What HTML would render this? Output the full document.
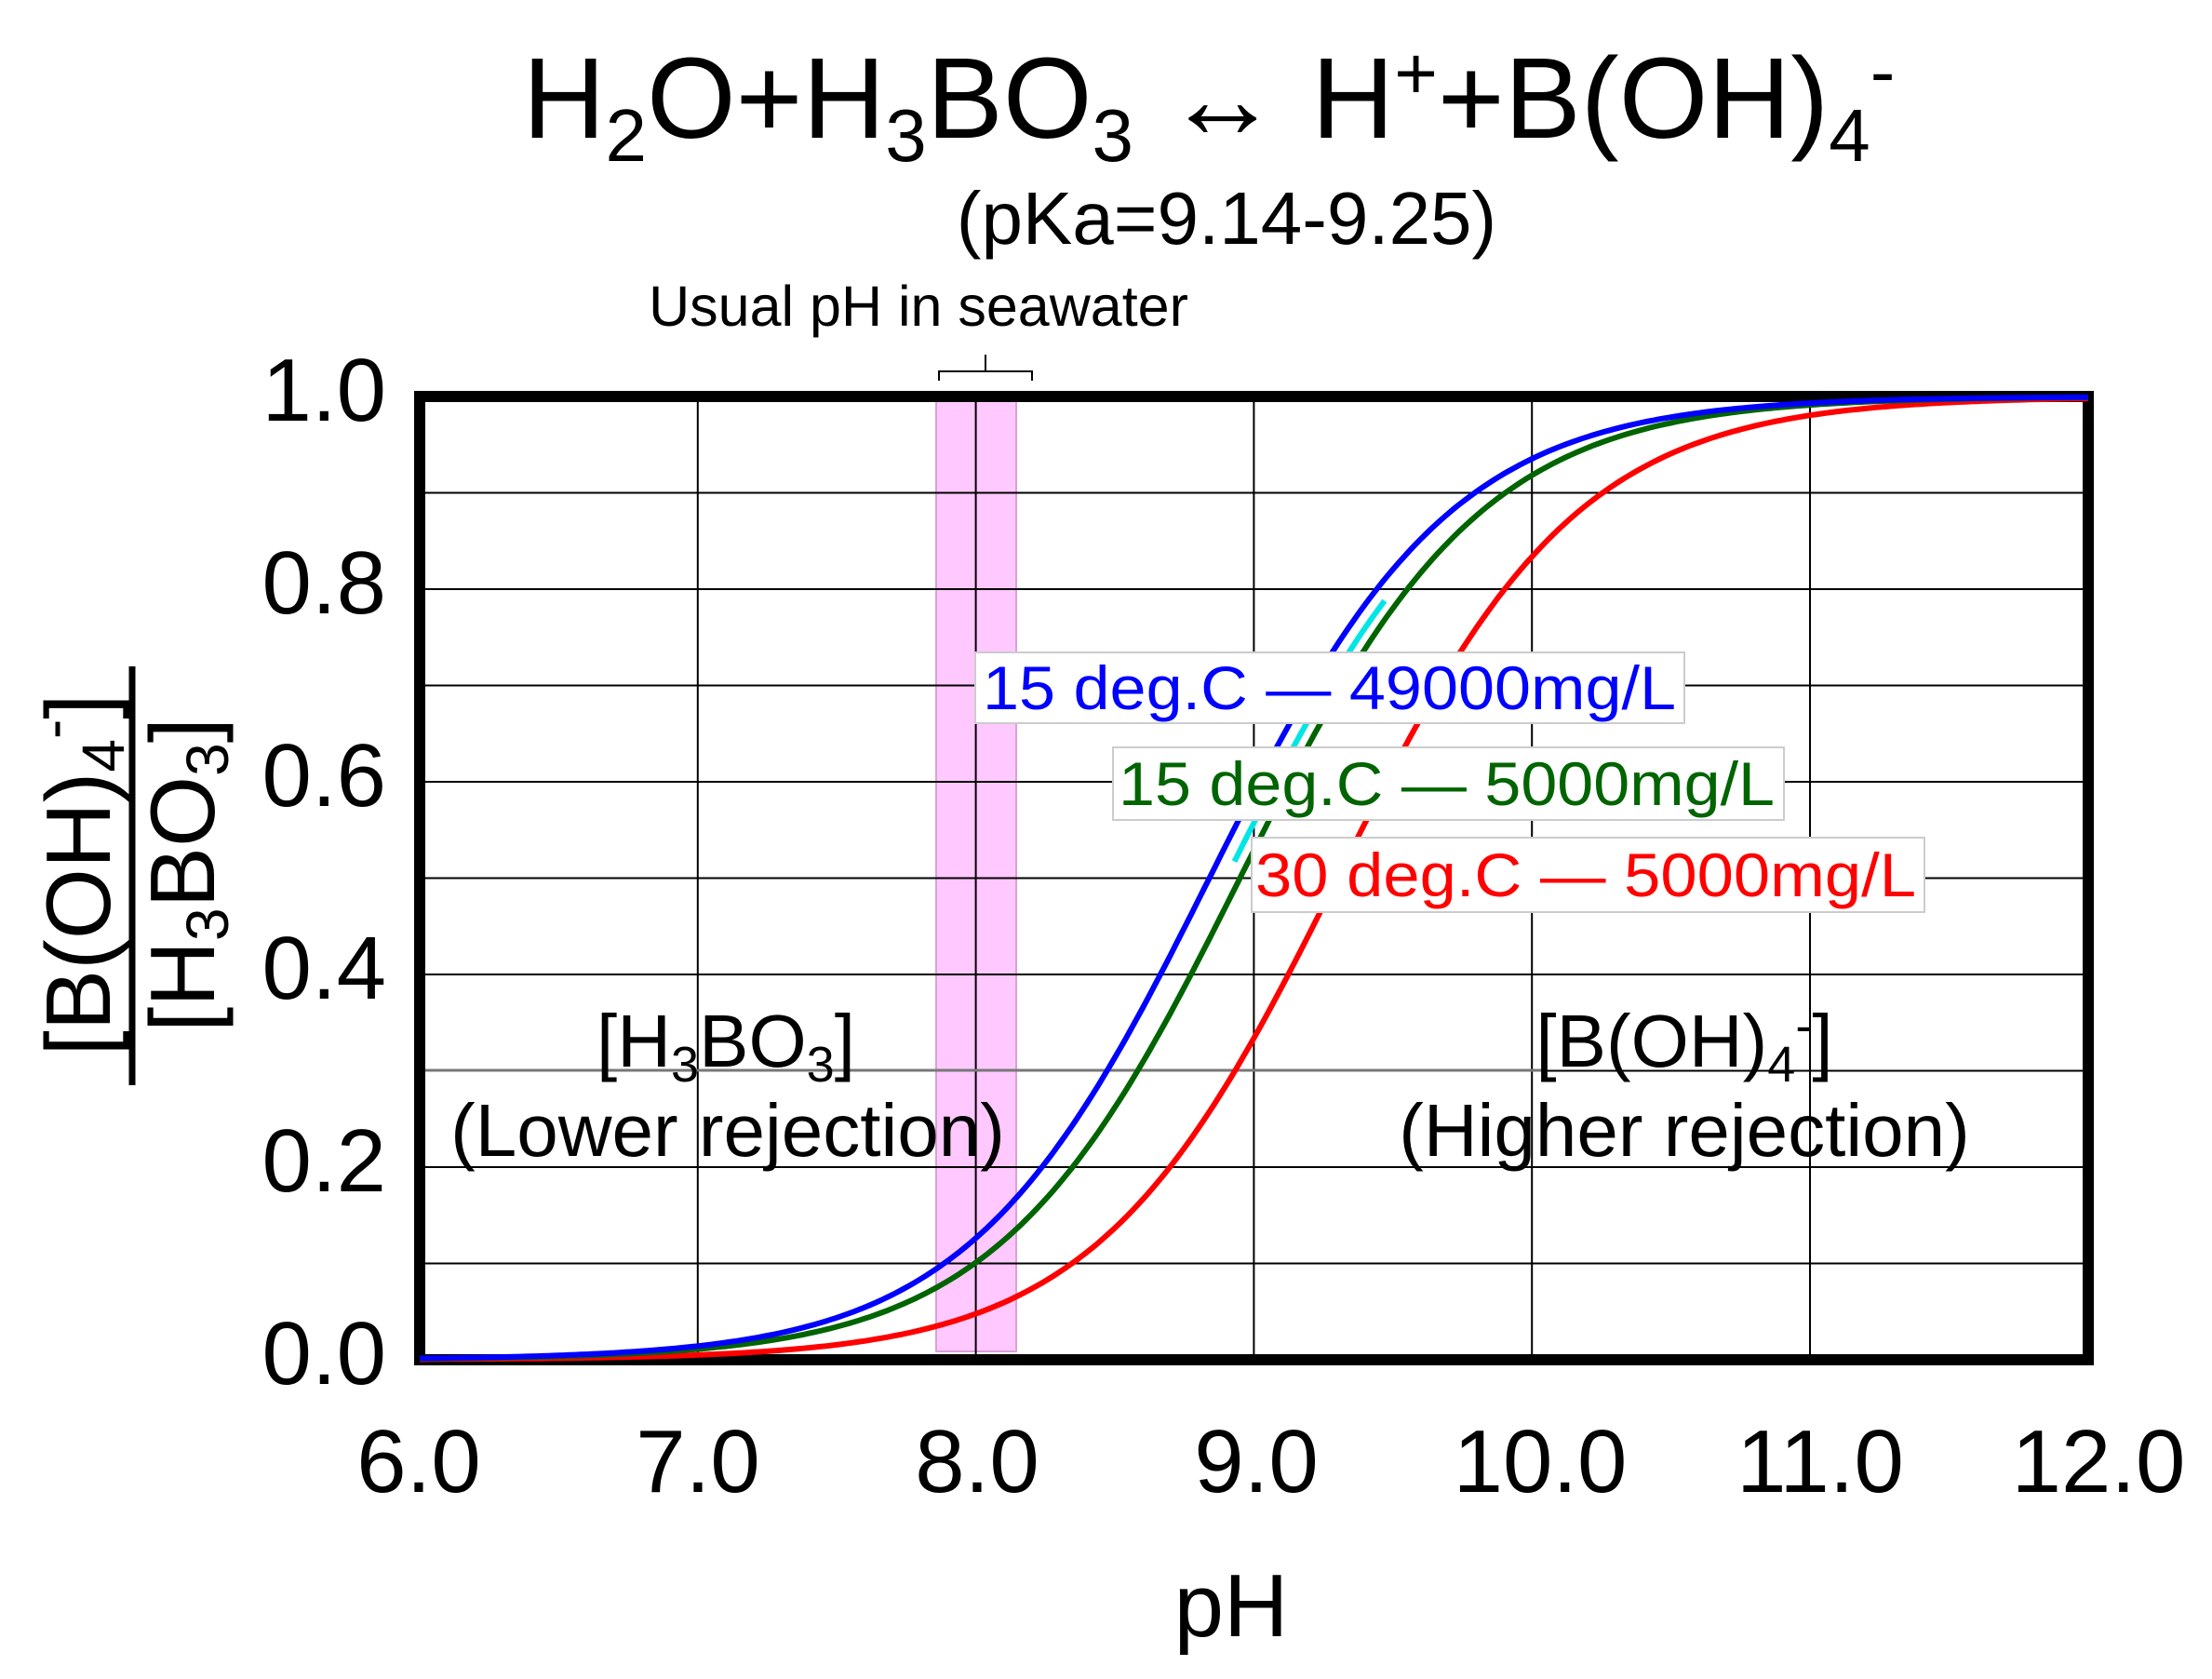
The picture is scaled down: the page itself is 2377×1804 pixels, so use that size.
<!DOCTYPE html>
<html><head><meta charset="utf-8"><style>
html,body{margin:0;padding:0;background:#fff;}
svg{display:block;font-family:"Liberation Sans",Arial,sans-serif;}
</style></head><body>
<svg id="s" width="2377" height="1804" viewBox="0 0 2377 1804" xmlns="http://www.w3.org/2000/svg">
<rect width="2377" height="1804" fill="#fff"/>
<!-- title -->
<text x="1299" y="148" font-size="123" text-anchor="middle">H<tspan font-size="80" dy="25">2</tspan><tspan dy="-25">O+H</tspan><tspan font-size="80" dy="25">3</tspan><tspan dy="-25">BO</tspan><tspan font-size="80" dy="25">3</tspan><tspan dy="-25"> ↔ H</tspan><tspan font-size="80" dy="-42">+</tspan><tspan dy="42">+B(OH)</tspan><tspan font-size="80" dy="25">4</tspan><tspan font-size="80" dy="-69">-</tspan></text>
<text x="1318" y="262" font-size="80" text-anchor="middle">(pKa=9.14-9.25)</text>
<text x="987" y="350" font-size="61" text-anchor="middle">Usual pH in seawater</text>
<path d="M1009 409 V399 H1109 V409 M1059 399 V381" fill="none" stroke="#000" stroke-width="2"/>
<!-- pink band -->
<rect x="1006" y="431" width="86" height="1021" fill="#ffc8ff" stroke="#d9a0d9" stroke-width="2"/>
<g id="grid" stroke="#000" stroke-width="2"></g>
<line x1="452" y1="1150" x2="1660" y2="1150" stroke="#777" stroke-width="3"/>
<rect x="451" y="426" width="1793" height="1035" fill="none" stroke="#000" stroke-width="12"/>
<g id="curves" fill="none" stroke-width="6"></g>
<!-- y tick labels -->
<g font-size="96" text-anchor="end">
<text x="415" y="452">1.0</text><text x="415" y="659">0.8</text><text x="415" y="866">0.6</text>
<text x="415" y="1073">0.4</text><text x="415" y="1280">0.2</text><text x="415" y="1487">0.0</text>
</g>
<g font-size="96" text-anchor="middle">
<text x="450" y="1603">6.0</text><text x="750" y="1603">7.0</text><text x="1050" y="1603">8.0</text>
<text x="1350" y="1603">9.0</text><text x="1655" y="1603">10.0</text><text x="1956" y="1603">11.0</text><text x="2255" y="1603">12.0</text>
<text x="1323" y="1758">pH</text>
</g>
<!-- y axis label -->
<line x1="142" y1="716" x2="142" y2="1166" stroke="#000" stroke-width="7"/>
<g transform="translate(118,940) rotate(-90)" font-size="98" text-anchor="middle"><text x="0" y="0">[B(OH)<tspan font-size="64" dy="15">4</tspan><tspan font-size="64" dy="-54">-</tspan><tspan dy="39">]</tspan></text></g>
<g transform="translate(230,940) rotate(-90)" font-size="98" text-anchor="middle"><text x="0" y="0">[H<tspan font-size="64" dy="15">3</tspan><tspan dy="-15">BO</tspan><tspan font-size="64" dy="15">3</tspan><tspan dy="-15">]</tspan></text></g>
<!-- region labels -->
<g font-size="80" text-anchor="middle">
<text x="780" y="1146">[H<tspan font-size="54" dy="16">3</tspan><tspan dy="-16">BO</tspan><tspan font-size="54" dy="16">3</tspan><tspan dy="-16">]</tspan></text>
<text x="782" y="1242">(Lower  rejection)</text>
<text x="1810" y="1146">[B(OH)<tspan font-size="54" dy="16">4</tspan><tspan font-size="54" dy="-42">-</tspan><tspan dy="26">]</tspan></text>
<text x="1810" y="1242">(Higher rejection)</text>
</g>
<g id="legend">
<rect x="1048" y="701" width="762" height="76" fill="#fff" stroke="#ccc" stroke-width="2"/>
<text x="1056" y="762" font-size="66" fill="#0000ff" textLength="745" lengthAdjust="spacingAndGlyphs">15 deg.C — 49000mg/L</text>
<rect x="1196" y="803" width="721" height="78" fill="#fff" stroke="#ccc" stroke-width="2"/>
<text x="1202" y="865" font-size="66" fill="#006400" textLength="705" lengthAdjust="spacingAndGlyphs">15 deg.C — 5000mg/L</text>
<rect x="1345" y="900" width="723" height="80" fill="#fff" stroke="#ccc" stroke-width="2"/>
<text x="1349" y="963" font-size="66" fill="#ff0000" textLength="710" lengthAdjust="spacingAndGlyphs">30 deg.C — 5000mg/L</text>
</g>
</svg>
<script>
(function(){
var ns="http://www.w3.org/2000/svg";
function X(p){return 451+(p-6)*298.8;}
function Y(v){return 1461-v*1035;}
var g=document.getElementById("grid");
for(var i=7;i<12;i++){var l=document.createElementNS(ns,"line");l.setAttribute("x1",X(i));l.setAttribute("x2",X(i));l.setAttribute("y1",426);l.setAttribute("y2",1461);g.appendChild(l);}
for(var j=1;j<10;j++){var l=document.createElementNS(ns,"line");l.setAttribute("x1",451);l.setAttribute("x2",2244);l.setAttribute("y1",Y(j/10));l.setAttribute("y2",Y(j/10));g.appendChild(l);}
var c=document.getElementById("curves");
function curve(pk,col,lo,hi){var d="";for(var p=lo;p<=hi+1e-9;p+=0.02){var v=1/(1+Math.pow(10,pk-p));d+=(d?"L":"M")+X(p).toFixed(1)+" "+Y(v).toFixed(1);}
var e=document.createElementNS(ns,"path");e.setAttribute("d",d);e.setAttribute("stroke",col);c.appendChild(e);}
curve(9.3,"#ff0000",6,12);
curve(8.95,"#006400",6,12);
curve(8.84,"#0000ff",6,12);
curve(8.9,"#00e5e5",8.93,9.48);
var s=document.getElementById("s");s.appendChild(document.getElementById("legend"));
})();
</script>
</body></html>
